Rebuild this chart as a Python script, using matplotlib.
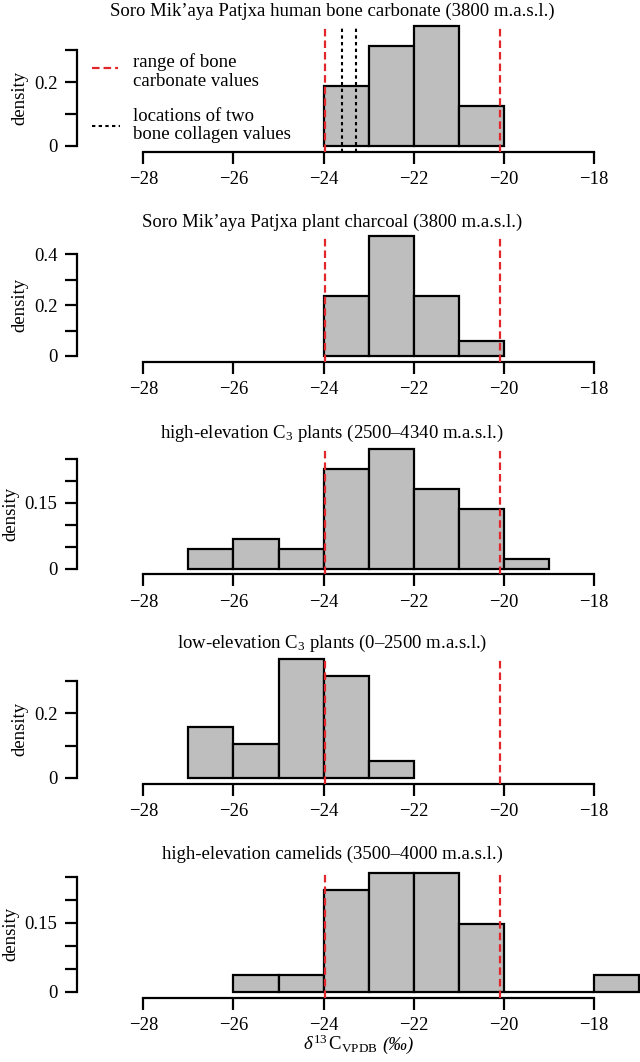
import numpy as np
import matplotlib
matplotlib.use("Agg")
import matplotlib.pyplot as plt
from matplotlib.lines import Line2D

plt.rcParams['font.family'] = ['Liberation Serif', 'DejaVu Serif']
plt.rcParams['mathtext.fontset'] = 'custom'
plt.rcParams['mathtext.rm'] = 'Liberation Serif'
plt.rcParams['mathtext.it'] = 'Liberation Serif:italic'
plt.rcParams['mathtext.bf'] = 'Liberation Serif:bold'

# --- data (counts per 1 permil bin) ---
titles = [
    "Soro Mik\u2019aya Patjxa human bone carbonate (3800 m.a.s.l.)",
    "Soro Mik\u2019aya Patjxa plant charcoal (3800 m.a.s.l.)",
    "high-elevation C$_3$ plants (2500\u20134340 m.a.s.l.)",
    "low-elevation C$_3$ plants (0\u20132500 m.a.s.l.)",
    "high-elevation camelids (3500\u20134000 m.a.s.l.)",
]
bin_starts = [-24, -24, -27, -27, -26]
bone_carbonate = [3, 5, 6, 2]
plant_charcoal = [4, 8, 4, 1]
high_c3 = [2, 3, 2, 10, 12, 8, 6, 1]
low_c3 = [3, 2, 7, 6, 1]
camelids = [1, 1, 6, 7, 7, 4, 0, 0, 1]
all_counts = [bone_carbonate, plant_charcoal, high_c3, low_c3, camelids]

carbonate_range = [-23.96, -20.08]
collagen_values = [-23.59, -23.29]

xticks = [-28, -26, -24, -22, -20, -18]
ytick_step = [0.1, 0.1, 0.05, 0.1, 0.05]
ytick_top = [0.3, 0.4, 0.25, 0.3, 0.25]
ytick_labelled = [[0, 0.2], [0, 0.2, 0.4], [0, 0.15], [0, 0.2], [0, 0.15]]

# --- layout (pixels from top-left) ---
W, H = 640, 1062
zero_px = [146, 356, 568.7, 778, 992]
title_base = [16, 226.5, 437.5, 648, 858.5]
ylab_x = [20, 20, 10.5, 20, 10.5]
ax_left = 76.7
px_per_unit = 45.07
bar_span = 119.5   # pixels from zero to tallest bar
below_zero = 5.7   # pixels from zero down to the x axis line
red = '#e3262b'
grey = '#bebebe'
fs = 13.5

fig = plt.figure(figsize=(W / 100, H / 100), dpi=100)


def fx(x):
    return x / W


def fy(y):
    return 1 - y / H


xmin = -28 - (143.3 - ax_left) / px_per_unit
xmax = xmin + (W - ax_left) / px_per_unit

for i, counts in enumerate(all_counts):
    counts = np.array(counts, dtype=float)
    dens = counts / counts.sum()
    edges = bin_starts[i] + np.arange(len(counts) + 1)
    dmax = dens.max()

    y0 = zero_px[i]
    ax = fig.add_axes([fx(ax_left), fy(y0 + below_zero),
                       (W - ax_left) / W, (bar_span + below_zero) / H])
    ax.bar(edges[:-1], dens, width=1, align='edge', color=grey,
           edgecolor='black', linewidth=1.6, clip_on=False, zorder=2)
    for v in carbonate_range:
        ax.axvline(v, color=red, lw=1.6, ls=(0, (3.4, 1.8)), zorder=4)
    if i == 0:
        for v in collagen_values:
            ax.axvline(v, color='black', lw=1.5, ls=(0, (1.6, 1.6)), zorder=4)

    ax.set_xlim(xmin, xmax)
    ax.set_ylim(-dmax * below_zero / bar_span, dmax)

    for s in ['top', 'right']:
        ax.spines[s].set_visible(False)
    ax.spines['left'].set_bounds(0, ytick_top[i])
    ax.spines['bottom'].set_bounds(xticks[0], xticks[-1])
    for s in ['left', 'bottom']:
        ax.spines[s].set_linewidth(1.6)

    ax.set_xticks(xticks)
    ax.set_xticklabels([f"\u2212{abs(t)}" for t in xticks])
    yt = np.round(np.arange(0, ytick_top[i] + 1e-9, ytick_step[i]), 3)
    ax.set_yticks(yt)
    labs = []
    for t in yt:
        if any(abs(t - l) < 1e-6 for l in ytick_labelled[i]):
            labs.append("0" if t == 0 else f"{t:g}")
        else:
            labs.append("")
    ax.set_yticklabels(labs)
    ax.tick_params(direction='out', length=8.4, width=1.6, pad=5.5,
                   labelsize=fs)
    ax.patch.set_visible(False)

    fig.text(fx(332), fy(title_base[i]), titles[i], ha='center',
             va='baseline', fontsize=fs)
    s = bar_span / dmax
    fig.text(fx(ylab_x[i]), fy(y0 - ytick_top[i] * s / 2), 'density',
             rotation=90, ha='center', va='center', fontsize=fs)

# legend of the first panel
fig.add_artist(Line2D([fx(91.7), fx(118)], [fy(68.3)] * 2, color=red,
                      lw=1.6, ls=(0, (3.4, 1.8)), transform=fig.transFigure))
fig.add_artist(Line2D([fx(91.7), fx(120)], [fy(126)] * 2, color='black',
                      lw=1.5, ls=(0, (1.6, 1.6)), transform=fig.transFigure))
fig.text(fx(133.3), fy(71.7), "range of bone\ncarbonate values",
         ha='left', va='center', fontsize=fs, linespacing=1.1)
fig.text(fx(133.3), fy(125.8), "locations of two\nbone collagen values",
         ha='left', va='center', fontsize=fs, linespacing=1.1)

# x axis label of the last panel
fig.text(fx(378), fy(1050), r"$\delta^{13}\,\mathrm{C}_{\mathrm{VPDB}}$",
         ha='right', va='baseline', fontsize=fs)
fig.text(fx(382), fy(1050), "(\u2030)", ha='left', va='baseline',
         fontsize=fs, style='italic')

fig.savefig("out.png", dpi=100)
